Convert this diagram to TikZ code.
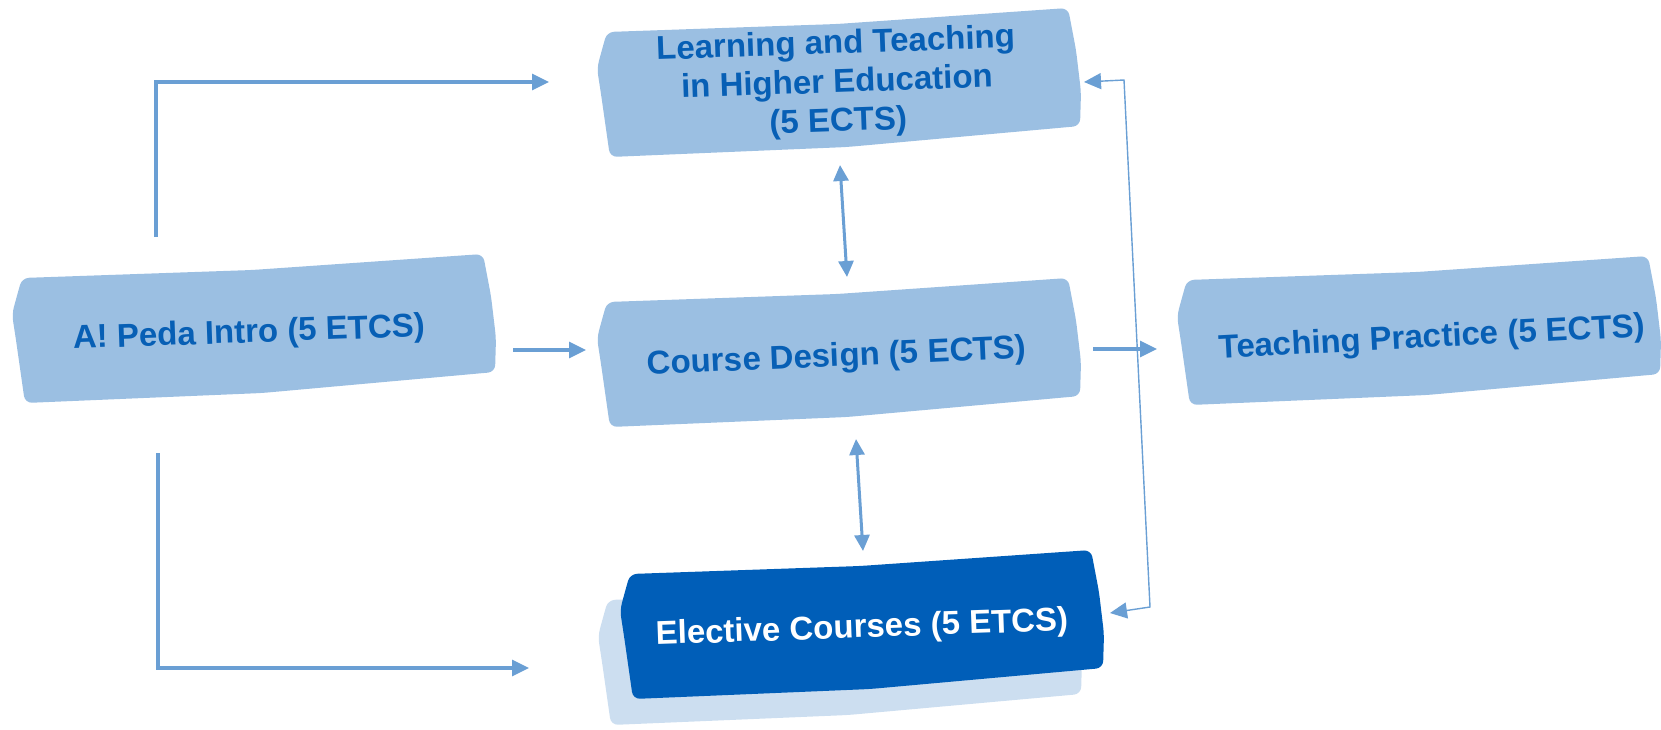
\documentclass[tikz,border=0pt]{standalone}
\usepackage{fontspec}
\setmainfont{Liberation Sans}
\usetikzlibrary{arrows.meta}

\definecolor{boxlight}{HTML}{9BBFE2}
\definecolor{boxdark}{HTML}{005EB8}
\definecolor{boxshade}{HTML}{CCDEF0}
\definecolor{labelblue}{HTML}{075FB5}
\definecolor{linkblue}{HTML}{6A9FD4}

% hand-torn card outline, relative to its top-left corner
\newcommand{\cardoutline}{(0,0) -- (230,-8) -- (461,-24) -- (469,18) -- (474,60) -- (473,94)
  -- (240,115) -- (3,125) -- (-6,62) -- (-10,36) -- (-4,14) -- cycle}

\tikzset{
  card/.style={fill=boxlight, rounded corners=7pt},
  darkcard/.style={fill=boxdark, rounded corners=7pt},
  shadecard/.style={fill=boxshade, rounded corners=7pt},
  label/.style={text=labelblue, font=\fontsize{33}{39}\selectfont\bfseries, align=center, inner sep=0pt},
  link/.style={draw=linkblue, line width=3.2pt, -{Triangle[length=17pt,width=16pt]}},
  twoway/.style={draw=linkblue, line width=3pt, {Triangle[length=16pt,width=15pt]}-{Triangle[length=16pt,width=15pt]}},
  thinlink/.style={draw=linkblue, line width=1.4pt, {Triangle[length=17pt,width=16pt]}-{Triangle[length=17pt,width=16pt]}},
}

\begin{document}
\begin{tikzpicture}[x=1pt, y=-1pt]
\useasboundingbox (0,0) rectangle (1661,729);

% cards
\fill[card, shift={(607,32)}] \cardoutline;
\fill[card, shift={(22,278)}] \cardoutline;
\fill[card, shift={(607,302)}] \cardoutline;
\fill[card, shift={(1187,280)}] \cardoutline;
\fill[shadecard, shift={(608,600)}] \cardoutline;
\fill[darkcard, shift={(630,574)}] \cardoutline;

% labels
\node[label, rotate=2] (lt) at (837,84) {Learning and Teaching\\in Higher Education\\(5 ECTS)};
\node[label, rotate=2] (peda) at (249,334) {A! Peda Intro (5 ETCS)};
\node[label, rotate=2.5] (cd) at (837,358) {Course Design (5 ECTS)};
\node[label, rotate=3] (tp) at (1432,339) {Teaching Practice (5 ECTS)};
\node[label, text=white, rotate=2] (el) at (862,629) {Elective Courses (5 ETCS)};

% connector end points
\coordinate (pedaTop) at (156,237);
\coordinate (pedaTopBend) at (156,82);
\coordinate (ltIn) at (549,82);
\coordinate (pedaBot) at (158,453);
\coordinate (pedaBotBend) at (158,668);
\coordinate (elIn) at (529,668);
\coordinate (pedaRight) at (513,350);
\coordinate (cdIn) at (586,350);
\coordinate (cdRight) at (1093,349);
\coordinate (tpIn) at (1157,349);
\coordinate (ltBelow) at (840,165);
\coordinate (cdAbove) at (847,277);
\coordinate (cdBelow) at (856,439);
\coordinate (elAbove) at (863,551);
\coordinate (ltRight) at (1084,82);
\coordinate (sideTop) at (1124,80);
\coordinate (sideBot) at (1150,607);
\coordinate (elRight) at (1110,613);

% connectors
\draw[link] (pedaTop) -- (pedaTopBend) -- (ltIn);
\draw[link] (pedaBot) -- (pedaBotBend) -- (elIn);
\draw[link] (pedaRight) -- (cdIn);
\draw[link] (cdRight) -- (tpIn);
\draw[twoway] (ltBelow) -- (cdAbove);
\draw[twoway] (cdBelow) -- (elAbove);
\draw[thinlink] (ltRight) -- (sideTop) -- (sideBot) -- (elRight);
\end{tikzpicture}
\end{document}
